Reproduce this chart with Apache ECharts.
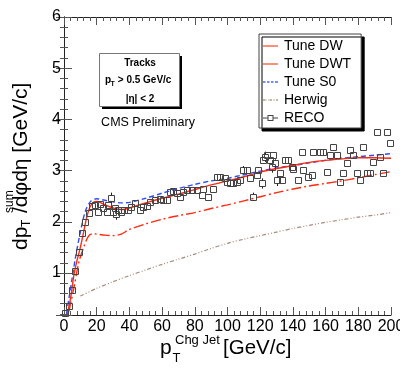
<!DOCTYPE html>
<html><head><meta charset="utf-8">
<script src="https://cdn.jsdelivr.net/npm/echarts@6/dist/echarts.min.js"></script>
<style>html,body{margin:0;padding:0;background:#fff}#c{width:400px;height:376px}</style>
</head><body><div id="c"></div>
<script>
// ---- data ----
const dwX = [2,4,6,8,10,12,14,16,18,20,22,25,30,35,40,50,60,70,80,90,100,110,120,130,140,150,160,170,180,190,200];
const dwY = [0.2,0.5,0.95,1.25,1.5,1.8,2.1,2.3,2.38,2.4,2.38,2.33,2.27,2.24,2.27,2.37,2.46,2.54,2.63,2.72,2.8,2.88,2.97,3.04,3.1,3.16,3.2,3.23,3.25,3.25,3.24];
const dwtX = [3,6,9,12,15,18,20,25,30,35,40,50,60,70,80,90,100,110,120,130,140,150,160,170,180,190,200];
const dwtY = [0.25,0.7,1.2,1.5,1.72,1.77,1.76,1.74,1.73,1.76,1.85,1.96,2.05,2.12,2.18,2.26,2.33,2.41,2.49,2.57,2.64,2.7,2.75,2.8,2.86,2.92,2.98];
const s0X = [1.5,3,5,7,10,13,16,20,25,30,35,40,50,60,70,80,90,100,110,120,130,140,150,160,170,180,190,200];
const s0Y = [0.2,0.5,0.9,1.3,1.8,2.2,2.39,2.45,2.42,2.39,2.37,2.38,2.46,2.56,2.65,2.73,2.8,2.85,2.92,2.99,3.05,3.1,3.15,3.2,3.24,3.27,3.3,3.33];
const herwigX = [10,20,30,40,50,60,70,80,90,100,110,120,130,140,150,160,170,180,190,200];
const herwigY = [0.55,0.7,0.83,0.95,1.06,1.17,1.27,1.37,1.48,1.58,1.66,1.73,1.8,1.87,1.93,1.99,2.04,2.09,2.13,2.18];
const recoX = [0.6,3,5,7,9,11,13,15.5,17,19,21,22,24,26,27,29,30,31,32,33,35,37,39,41,43.4,46.5,48.5,50.6,52.6,55.7,58.7,60.8,62.8,64.8,66.9,68.9,70.9,73,75,78,81.1,84.2,85.2,88.3,91.3,93.4,95.4,98.5,99.5,101.5,103.6,105.6,107.6,109.7,111.7,113.8,115.8,117.8,118.9,120.9,121.9,123,124,126,127,128,129,130.1,132.1,133.1,135.2,137.2,139.2,140.3,143.3,145.4,146.4,149.4,151.5,152.5,156.6,158.6,160.7,162.7,164.7,166.8,168.8,170.8,172.9,174.9,177,179,181,183.1,185.1,187.2,189.2,191.2,193.3,195.3,197.4,199.4];
const recoY = [0.21,0.36,0.66,1.03,1.42,1.78,2.0,2.17,2.3,2.33,2.2,2.35,2.26,2.2,2.33,2.47,2.2,2.26,2.16,2.23,2.2,2.23,2.24,2.29,2.36,2.24,2.28,2.3,2.39,2.43,2.44,2.42,2.43,2.59,2.61,2.56,2.49,2.59,2.62,2.62,2.62,2.52,2.65,2.49,2.65,2.88,2.88,2.85,2.78,2.75,2.75,2.78,2.82,3.01,3.01,2.85,2.49,2.91,3.01,2.75,3.21,3.27,3.3,3.21,3.08,3.3,3.14,2.82,2.95,2.82,3.21,3.21,3.08,3.04,2.82,3.37,3.01,2.88,2.91,3.37,3.37,3.37,2.98,3.3,3.47,3.3,2.78,2.95,3.14,3.4,3.3,2.95,2.82,3.47,2.95,2.95,3.17,3.76,3.27,2.95,3.76,3.53];
const recoErr = [0.02,0.03,0.03,0.03,0.03,0.03,0.03,0.03,0.03,0.03,0.03,0.03,0.03,0.03,0.03,0.1,0.04,0.05,0.12,0.05,0.03,0.03,0.03,0.03,0.03,0.03,0.03,0.03,0.03,0.03,0.03,0.03,0.03,0.03,0.03,0.03,0.03,0.04,0.03,0.03,0.03,0.03,0.03,0.03,0.03,0.03,0.03,0.03,0.03,0.03,0.03,0.03,0.03,0.08,0.05,0.05,0.08,0.05,0.06,0.1,0.06,0.1,0.05,0.05,0.12,0.05,0.08,0.12,0.05,0.05,0.03,0.03,0.03,0.03,0.03,0.03,0.03,0.03,0.03,0.03,0.03,0.03,0.03,0.03,0.05,0.03,0.03,0.03,0.03,0.03,0.03,0.03,0.03,0.03,0.03,0.03,0.03,0.05,0.05,0.03,0.05,0.05];
const seriesNames = ['Tune DW','Tune DWT','Tune S0','Herwig','RECO'];

const FF = '"Liberation Sans", Arial, Helvetica, sans-serif';
const pairs = (xs, ys) => xs.map((x, i) => [x, ys[i]]);

// legend icon paths (30 x 3 units -> drawn at 15 x 1.5 px)
function segPath(segs) {
  return 'path://' + segs.map(s => 'M' + s[0] + ',0 L' + s[1] + ',0 L' + s[1] + ',3 L' + s[0] + ',3 Z').join(' ');
}
const iconSolid = segPath([[0, 30]]);
const iconDash = segPath([[0, 5], [8, 13], [16, 21], [24, 30]]);
const iconDashDot = segPath([[0, 5], [7, 8], [10, 11], [13, 18], [20, 21], [23, 24], [26, 30]]);
const recoIcon = 'path://M0,6 L9,6 L9,8 L0,8 Z M21,6 L30,6 L30,8 L21,8 Z M9,1 L21,1 L21,13 L9,13 Z M11,3 L11,11 L19,11 L19,3 Z';

const chart = echarts.init(document.getElementById('c'), null, {renderer: 'canvas'});

const tickCommon = {
  axisLine: {show: true, lineStyle: {color: '#222', width: 1}},
  axisTick: {show: true, inside: true, length: 8, lineStyle: {color: '#555'}},
  minorTick: {show: true, splitNumber: 5, length: 4, lineStyle: {color: '#555'}},
  splitLine: {show: false}
};

const option = {
  backgroundColor: '#fff',
  animation: false,
  grid: {left: 64, right: 9, top: 17, bottom: 61, containLabel: false, outerBoundsMode: 'none'},
  xAxis: [
    Object.assign({type: 'value', min: 0, max: 200, interval: 20, position: 'bottom',
      axisLabel: {fontSize: 16, color: '#000', margin: 4, fontFamily: FF}}, tickCommon),
    Object.assign({type: 'value', min: 0, max: 200, interval: 20, position: 'top',
      axisLabel: {show: false}}, tickCommon)
  ],
  yAxis: [
    Object.assign({type: 'value', min: 0.18, max: 6, splitNumber: 5, position: 'left',
      axisLabel: {fontSize: 16, color: '#000', margin: 3, fontFamily: FF, showMinLabel: false,
        formatter: v => Math.abs(v - Math.round(v)) < 1e-6 ? String(Math.round(v)) : ''}}, tickCommon),
    Object.assign({type: 'value', min: 0.18, max: 6, splitNumber: 5, position: 'right',
      axisLabel: {show: false}}, tickCommon)
  ],
  legend: {
    orient: 'vertical', left: 259, top: 34,
    padding: [5, 10, 3, 4], itemGap: 4, itemWidth: 15, itemHeight: 14,
    backgroundColor: '#fff', borderColor: '#444', borderWidth: 1,
    shadowColor: '#000', shadowOffsetX: 3, shadowOffsetY: 3, shadowBlur: 0,
    textStyle: {fontSize: 14, color: '#000', fontFamily: FF, padding: [0, 0, 0, 1]},
    data: [
      {name: seriesNames[0], icon: iconSolid, itemStyle: {color: '#ff6a50'}},
      {name: seriesNames[1], icon: iconSolid, itemStyle: {color: '#ff6a50'}},
      {name: seriesNames[2], icon: iconDash, itemStyle: {color: '#4a68ff'}},
      {name: seriesNames[3], icon: iconDashDot, itemStyle: {color: '#b89c8c'}},
      {name: seriesNames[4], icon: recoIcon, itemStyle: {color: '#444'}}
    ]
  },
  series: [
    {name: seriesNames[0], type: 'line', data: pairs(dwX, dwY), symbol: 'none', smooth: 0.3,
      lineStyle: {color: '#ff2a10', width: 1.4}, itemStyle: {color: '#ff2a10'}, z: 4},
    {name: seriesNames[1], type: 'line', data: pairs(dwtX, dwtY), symbol: 'none', smooth: 0.3,
      lineStyle: {color: '#ff2a10', width: 1.4, type: [10, 3, 2, 3]}, itemStyle: {color: '#ff2a10'}, z: 4},
    {name: seriesNames[2], type: 'line', data: pairs(s0X, s0Y), symbol: 'none', smooth: 0.3,
      lineStyle: {color: '#2e4cff', width: 1.4, type: [5, 3]}, itemStyle: {color: '#2e4cff'}, z: 3},
    {name: seriesNames[3], type: 'line', data: pairs(herwigX, herwigY), symbol: 'none', smooth: 0.3,
      lineStyle: {color: '#a88a7a', width: 1.2, type: [4, 2, 1, 2, 1, 2]}, itemStyle: {color: '#a88a7a'}, z: 3},
    {name: seriesNames[4], type: 'custom', encode: {x: 0, y: 1}, itemStyle: {color: '#444'}, z: 5,
      data: recoX.map((x, i) => [x, recoY[i], recoErr[i]]),
      renderItem: function (params, api) {
        const x = api.value(0), y = api.value(1), e = api.value(2);
        const c = api.coord([x, y]);
        const t = api.coord([x, y + e]);
        const b = api.coord([x, y - e]);
        const cx = Math.round(c[0]) + 0.5, cy = Math.round(c[1]) + 0.5, h = 3;
        const children = [{type: 'rect', shape: {x: cx - h, y: cy - h, width: 2 * h, height: 2 * h},
          style: {fill: 'rgba(0,0,0,0)', stroke: '#444', lineWidth: 1}}];
        if (cy - t[1] > h) children.push({type: 'line', shape: {x1: cx, y1: t[1], x2: cx, y2: cy - h}, style: {stroke: '#222', lineWidth: 1}});
        if (b[1] - cy > h) children.push({type: 'line', shape: {x1: cx, y1: cy + h, x2: cx, y2: b[1]}, style: {stroke: '#222', lineWidth: 1}});
        return {type: 'group', children: children};
      }
    }
  ],
  graphic: [
    // info box with shadow
    {type: 'rect', shape: {x: 102, y: 56, width: 80, height: 53}, style: {fill: '#000'}, z: 10},
    {type: 'rect', shape: {x: 99.5, y: 53.5, width: 80, height: 53}, style: {fill: '#fff', stroke: '#777', lineWidth: 1}, z: 11},
    {type: 'text', x: 140, y: 63, z: 12, style: {text: 'Tracks', font: 'bold 10px ' + FF, fill: '#000', textAlign: 'center', textVerticalAlign: 'middle'}},
    {type: 'text', x: 105, y: 80, z: 12, style: {text: 'p', font: 'bold 10px ' + FF, fill: '#000', textAlign: 'left', textVerticalAlign: 'middle'}},
    {type: 'text', x: 110.5, y: 84, z: 12, style: {text: 'T', font: 'bold 7px ' + FF, fill: '#000', textAlign: 'left', textVerticalAlign: 'middle'}},
    {type: 'text', x: 115, y: 80, z: 12, style: {text: ' > 0.5 GeV/c', font: 'bold 10px ' + FF, fill: '#000', textAlign: 'left', textVerticalAlign: 'middle'}},
    {type: 'text', x: 140, y: 99, z: 12, style: {text: '|\u03b7| < 2', font: 'bold 10px ' + FF, fill: '#000', textAlign: 'center', textVerticalAlign: 'middle'}},
    {type: 'text', x: 148, y: 123, z: 12, style: {text: 'CMS Preliminary', font: '12.5px ' + FF, fill: '#000', textAlign: 'center', textVerticalAlign: 'middle'}},
    // x-axis title
    {type: 'text', x: 160, y: 348, style: {text: 'p', font: '21px ' + FF, fill: '#000', textAlign: 'left', textVerticalAlign: 'middle'}},
    {type: 'text', x: 172.5, y: 358, style: {text: 'T', font: '13px ' + FF, fill: '#000', textAlign: 'left', textVerticalAlign: 'middle'}},
    {type: 'text', x: 175, y: 340, style: {text: 'Chg Jet', font: '13px ' + FF, fill: '#000', textAlign: 'left', textVerticalAlign: 'middle'}},
    {type: 'text', x: 223, y: 348, style: {text: '[GeV/c]', font: '20.5px ' + FF, fill: '#000', textAlign: 'left', textVerticalAlign: 'middle'}},
    // y-axis title (rotated)
    {type: 'text', x: 21, y: 250, rotation: Math.PI / 2, style: {text: 'dp', font: '21px ' + FF, fill: '#000', textAlign: 'left', textVerticalAlign: 'middle'}},
    {type: 'text', x: 27, y: 227, rotation: Math.PI / 2, style: {text: 'T', font: '12px ' + FF, fill: '#000', textAlign: 'left', textVerticalAlign: 'middle'}},
    {type: 'text', x: 10, y: 213, rotation: Math.PI / 2, style: {text: 'sum', font: '12px ' + FF, fill: '#000', textAlign: 'left', textVerticalAlign: 'middle'}},
    {type: 'text', x: 21, y: 213, rotation: Math.PI / 2, style: {text: '/d\u03c6d\u03b7 [GeV/c]', font: '21px ' + FF, fill: '#000', textAlign: 'left', textVerticalAlign: 'middle'}}
  ]
};
chart.setOption(option);
</script></body></html>
